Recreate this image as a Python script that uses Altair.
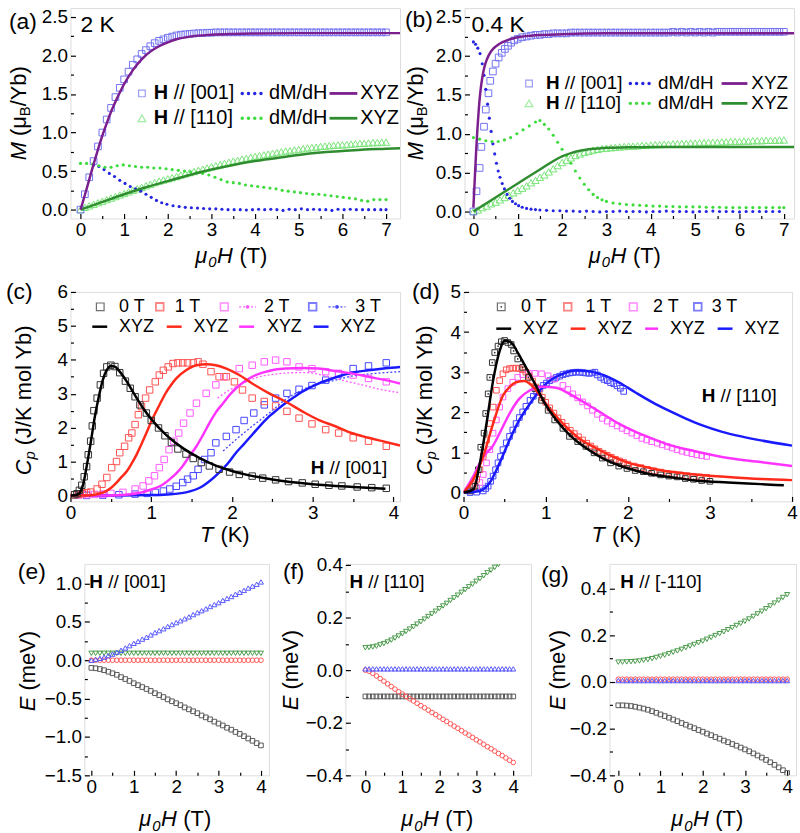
import altair as alt
import pandas as pd

FONT = "Liberation Sans"
TICK = 19
TITLE = 22
LETTER = 23
LEGA = 20
LEGB = 19
LEGCD = 18
ANN = 19

# ======================= DATA =======================
H_GRID = [0.0,0.1,0.2,0.3,0.4,0.5,0.6,0.7,0.8,0.9,1.0,1.1,1.2,1.3,1.4,1.5,1.6,1.7,1.8,1.9,
          2.0,2.1,2.2,2.3,2.4,2.5,2.6,2.7,2.8,2.9,3.0,3.1,3.2,3.3,3.4,3.5,3.6,3.7,3.8,3.9,
          4.0,4.1,4.2,4.3,4.4,4.5,4.6,4.7,4.8,4.9,5.0,5.1,5.2,5.3,5.4,5.5,5.6,5.7,5.8,5.9,
          6.0,6.1,6.2,6.3,6.4,6.5,6.6,6.7,6.8,6.9,7.0]

# (a) 2 K
A_SQ001 = [0.00,0.20,0.42,0.63,0.82,1.00,1.17,1.32,1.46,1.58,1.69,1.79,1.88,1.95,2.02,2.07,2.12,2.16,2.19,2.21,
           2.23,2.245,2.26,2.27,2.275,2.28,2.285,2.29,2.29,2.295,2.295,2.30,2.30,2.30,2.30,2.30,2.30,2.30,2.30,2.30,
           2.30,2.30,2.30,2.30,2.30,2.30,2.30,2.30,2.30,2.30,2.30,2.30,2.30,2.30,2.30,2.30,2.30,2.30,2.30,2.30,
           2.30,2.30,2.30,2.30,2.30,2.30,2.30,2.30,2.30,2.30,2.30]
A_TRI110 = [0.0,0.03,0.05,0.07,0.09,0.11,0.13,0.15,0.17,0.19,0.21,0.23,0.25,0.27,0.29,0.31,0.33,0.35,0.37,0.385,
            0.40,0.415,0.43,0.45,0.465,0.48,0.495,0.51,0.525,0.54,0.555,0.57,0.585,0.60,0.615,0.63,0.64,0.655,0.665,0.68,
            0.69,0.70,0.71,0.72,0.73,0.74,0.75,0.76,0.765,0.775,0.78,0.79,0.80,0.805,0.81,0.82,0.825,0.83,0.835,0.84,
            0.84,0.845,0.85,0.855,0.86,0.86,0.865,0.87,0.87,0.875,0.875]
A_X001_H = [0,0.1,0.2,0.3,0.4,0.5,0.6,0.7,0.8,0.9,1.0,1.2,1.4,1.6,1.8,2.0,2.2,2.5,3.0,3.5,4.0,5.0,6.0,7.0,7.4]
A_X001_M = [0,0.19,0.39,0.59,0.78,0.96,1.12,1.27,1.40,1.52,1.63,1.81,1.95,2.05,2.12,2.17,2.21,2.245,2.27,2.28,2.285,2.29,2.29,2.29,2.29]
A_X110_H = [0,0.5,1,1.5,2,2.5,3,3.5,4,4.5,5,5.5,6,6.5,7,7.4]
A_X110_M = [0,0.10,0.20,0.29,0.37,0.45,0.52,0.58,0.63,0.67,0.71,0.74,0.76,0.78,0.79,0.80]
A_D001_H = [0.3,0.42,0.54,0.66,0.78,0.9,1.02,1.14,1.26,1.38,1.5,1.62,1.74,1.86,1.98,2.12,2.26,2.4,2.54,2.68,
            2.82,2.96,3.1,3.24,3.38,3.52,3.66,3.8,3.94,4.08,4.22,4.36,4.5,4.64,4.78,4.92,5.06,5.2,5.34,5.48,
            5.62,5.76,5.9,6.04,6.18,6.32,6.46,6.6,6.74,6.88,7.0]
A_D001_V = [0.58,0.56,0.52,0.47,0.43,0.38,0.34,0.30,0.27,0.24,0.20,0.16,0.12,0.09,0.07,0.05,0.04,0.03,0.025,0.02,
            0.015,0.01,0.01,0.005,0.0,0.0,0.0,-0.005,0.0,0.005,0.0,0.005,0.0,-0.01,0.005,0.0,0.01,0.0,0.005,0.0,
            0.0,-0.01,0.005,0.0,0.005,0.0,0.0,0.0,0.0,0.0,0.0]
A_D110_H = [0.0,0.14,0.28,0.42,0.56,0.7,0.84,0.98,1.12,1.26,1.4,1.54,1.68,1.82,1.96,2.1,2.24,2.38,2.52,2.66,
            2.8,2.94,3.08,3.22,3.36,3.5,3.64,3.78,3.92,4.06,4.2,4.34,4.48,4.62,4.76,4.9,5.04,5.18,5.32,5.46,
            5.6,5.74,5.88,6.02,6.16,6.3,6.44,6.58,6.72,6.86,7.0]
A_D110_V = [0.60,0.60,0.59,0.57,0.55,0.55,0.57,0.58,0.57,0.56,0.55,0.55,0.54,0.54,0.53,0.52,0.51,0.50,0.49,0.48,
            0.47,0.45,0.42,0.39,0.36,0.35,0.34,0.32,0.31,0.30,0.29,0.28,0.27,0.25,0.24,0.23,0.22,0.21,0.20,0.20,
            0.19,0.18,0.17,0.16,0.15,0.14,0.12,0.11,0.13,0.13,0.13]

# (b) 0.4 K
B_SQ001_H = [0.0,0.07,0.14,0.18,0.24,0.28,0.34,0.38,0.44,0.5,0.57,0.64,0.71,0.78,0.85,0.92,1.0,1.1,1.2,1.3,1.4,1.5,1.6,
             1.7,1.8,1.9,2.0,2.1,2.2,2.3,2.4,2.5,2.6,2.7,2.8,2.9,3.0,3.1,3.2,3.3,3.4,3.5,3.6,3.7,3.8,3.9,
             4.0,4.1,4.2,4.3,4.4,4.5,4.6,4.7,4.8,4.9,5.0,5.1,5.2,5.3,5.4,5.5,5.6,5.7,5.8,5.9,
             6.0,6.1,6.2,6.3,6.4,6.5,6.6,6.7,6.8,6.9,7.0]
B_SQ001_M = [0.0,0.26,0.56,0.83,1.09,1.31,1.52,1.68,1.80,1.90,1.98,2.04,2.09,2.13,2.17,2.20,2.22,2.24,2.25,2.26,2.27,2.27,2.28,
             2.28,2.29,2.29,2.29,2.29,2.30,2.30,2.30,2.30,2.30,2.30,2.30,2.30,2.30,2.30,2.30,2.30,2.30,2.30,2.30,2.30,2.30,2.30,
             2.30,2.30,2.30,2.30,2.30,2.31,2.30,2.31,2.30,2.31,2.30,2.31,2.30,2.31,2.30,2.31,2.31,2.31,2.31,2.31,
             2.31,2.31,2.31,2.31,2.31,2.31,2.31,2.31,2.31,2.31,2.31]
B_TRI110 = [0.0,0.02,0.05,0.07,0.10,0.12,0.15,0.18,0.21,0.24,0.27,0.30,0.33,0.37,0.40,0.44,0.47,0.51,0.55,0.59,
            0.63,0.66,0.69,0.72,0.74,0.76,0.775,0.79,0.80,0.81,0.815,0.82,0.825,0.83,0.835,0.84,0.84,0.845,0.85,0.85,
            0.855,0.86,0.86,0.865,0.865,0.87,0.87,0.875,0.875,0.88,0.88,0.885,0.885,0.89,0.89,0.89,0.895,0.895,0.90,0.90,
            0.90,0.905,0.905,0.91,0.91,0.91,0.915,0.915,0.915,0.92,0.92]
B_X001_H = [0.0,0.03,0.06,0.09,0.12,0.15,0.2,0.25,0.3,0.4,0.5,0.6,0.8,1.0,1.3,1.6,2.0,3.0,4.0,5.0,6.0,7.4]
B_X001_M = [0.05,0.40,0.75,1.05,1.30,1.50,1.72,1.86,1.95,2.06,2.12,2.16,2.21,2.24,2.26,2.27,2.28,2.29,2.29,2.29,2.29,2.29]
B_X110_H = [0,0.5,1,1.5,2.0,2.2,2.4,2.6,2.8,3.0,3.5,4,5,6,7.4]
B_X110_M = [0.0,0.18,0.36,0.54,0.71,0.75,0.78,0.80,0.81,0.82,0.825,0.83,0.83,0.83,0.83]
B_D001_H = [0.0,0.05,0.1,0.15,0.2,0.24,0.28,0.32,0.36,0.4,0.44,0.48,0.52,0.56,0.6,0.65,0.7,0.76,0.82,0.88,
            0.95,1.02,1.1,1.2,1.3,1.4,1.5,1.65,1.8,1.95,2.1,2.25,2.4,2.55,2.7,2.85,3.0,3.15,3.3,3.45,
            3.6,3.75,3.9,4.05,4.2,4.35,4.5,4.65,4.8,4.95,5.1,5.25,5.4,5.55,5.7,5.85,6.0,6.15,6.3,6.45,
            6.6,6.75,6.9]
B_D001_V = [2.18,2.15,2.10,2.03,1.90,1.75,1.57,1.38,1.20,1.03,0.87,0.74,0.62,0.52,0.44,0.36,0.29,0.22,0.17,0.13,
            0.10,0.075,0.055,0.04,0.03,0.025,0.02,0.015,0.01,0.01,0.005,0.005,0.0,0.005,0.0,-0.005,0.0,0.0,0.005,0.0,
            0.0,0.0,-0.005,0.0,0.0,0.005,0.0,0.0,0.0,-0.005,0.0,0.0,0.005,0.0,0.0,0.0,-0.005,0.0,0.0,0.0,
            0.0,0.0,0.0]
B_D110_H = [0.0,0.14,0.28,0.42,0.56,0.7,0.84,0.98,1.12,1.26,1.4,1.5,1.6,1.7,1.8,1.9,2.0,2.1,2.2,2.3,
            2.4,2.5,2.6,2.7,2.8,2.9,3.0,3.15,3.3,3.45,3.6,3.75,3.9,4.05,4.2,4.35,4.5,4.65,4.8,4.95,
            5.1,5.25,5.4,5.55,5.7,5.85,6.0,6.15,6.3,6.45,6.6,6.75,6.9,7.0]
B_D110_V = [0.95,0.93,0.91,0.90,0.90,0.92,0.95,1.00,1.05,1.10,1.15,1.17,1.12,1.06,0.98,0.89,0.80,0.72,0.62,0.52,
            0.43,0.35,0.28,0.22,0.18,0.15,0.13,0.11,0.10,0.09,0.085,0.08,0.075,0.07,0.07,0.065,0.065,0.06,0.06,0.06,
            0.06,0.055,0.055,0.055,0.05,0.05,0.05,0.05,0.05,0.05,0.05,0.05,0.05,0.05]

# (c) Cp, H // [001]
C_S0_T = [0.05,0.08,0.11,0.14,0.17,0.2,0.22,0.25,0.27,0.29,0.33,0.37,0.41,0.45,0.5,0.55,0.61,0.68,0.74,0.8,
          0.86,0.94,1.0,1.09,1.17,1.25,1.33,1.43,1.52,1.62,1.72,1.84,1.97,2.09,2.25,2.38,2.54,2.7,2.87,3.03,
          3.2,3.36,3.55,3.73,3.91]
C_S0_C = [0.02,0.05,0.15,0.3,0.55,0.85,1.2,1.6,2.05,2.5,2.87,3.26,3.6,3.79,3.84,3.8,3.62,3.37,3.16,2.91,
          2.67,2.43,2.21,1.99,1.76,1.56,1.37,1.22,1.09,0.97,0.87,0.77,0.69,0.62,0.57,0.51,0.46,0.41,0.37,0.33,
          0.3,0.28,0.25,0.23,0.21]
C_L0_T = [0.0,0.08,0.12,0.16,0.2,0.25,0.3,0.35,0.4,0.45,0.5,0.55,0.6,0.7,0.8,0.9,1.0,1.2,1.4,1.6,1.8,2.0,2.2,2.5,3.0,3.5,3.9]
C_L0_C = [0.0,0.02,0.1,0.35,0.85,1.55,2.3,2.9,3.4,3.7,3.82,3.8,3.68,3.35,2.95,2.57,2.25,1.75,1.38,1.1,0.88,0.72,0.6,0.47,0.33,0.25,0.2]
C_S1_T = [0.05,0.1,0.15,0.2,0.25,0.33,0.39,0.45,0.51,0.57,0.61,0.67,0.72,0.76,0.8,0.84,0.88,0.93,0.98,1.05,
          1.1,1.15,1.21,1.27,1.33,1.39,1.45,1.52,1.58,1.64,1.74,1.84,1.93,2.03,2.13,2.25,2.4,2.54,2.68,2.83,
          2.99,3.16,3.32,3.5,3.69,3.91]
C_S1_C = [0.02,0.03,0.05,0.08,0.1,0.19,0.33,0.53,0.82,1.0,1.26,1.45,1.7,1.84,2.09,2.38,2.62,2.87,3.11,3.35,
          3.55,3.69,3.79,3.89,3.91,3.91,3.91,3.91,3.94,3.87,3.65,3.5,3.5,3.35,3.11,2.87,2.77,2.64,2.48,2.28,
          2.11,1.94,1.84,1.7,1.6,1.45]
C_L1_T = [0.0,0.2,0.3,0.41,0.5,0.57,0.63,0.7,0.76,0.82,0.88,0.94,1.0,1.07,1.13,1.19,1.25,1.31,1.43,1.56,
          1.68,1.8,1.93,2.09,2.25,2.46,2.66,2.87,3.07,3.28,3.48,3.69,3.9,4.08]
C_L1_C = [0.0,0.0,0.02,0.09,0.22,0.38,0.54,0.72,0.95,1.21,1.52,1.84,2.18,2.52,2.8,3.06,3.27,3.45,3.69,3.84,
          3.87,3.84,3.74,3.55,3.3,3.01,2.77,2.48,2.23,2.04,1.84,1.7,1.58,1.47]
C_S2_T = [0.1,0.2,0.3,0.4,0.5,0.65,0.8,0.9,0.97,1.04,1.1,1.16,1.22,1.28,1.34,1.4,1.48,1.56,1.68,1.8,
          1.9,2.09,2.25,2.4,2.54,2.68,2.83,2.99,3.16,3.32,3.5,3.69,3.91]
C_S2_C = [0.01,0.02,0.03,0.04,0.06,0.09,0.19,0.28,0.43,0.58,0.82,1.06,1.35,1.6,1.84,2.13,2.43,2.72,3.01,3.26,
          3.5,3.74,3.84,3.94,3.99,3.94,3.79,3.74,3.65,3.6,3.55,3.45,3.35]
C_L2_T = [0.0,0.5,0.8,1.02,1.13,1.23,1.31,1.39,1.47,1.56,1.64,1.72,1.8,1.89,1.97,2.05,2.15,2.25,2.35,2.46,
          2.56,2.66,2.87,3.07,3.28,3.48,3.69,3.9,4.08]
C_L2_C = [0.0,0.0,0.05,0.19,0.3,0.48,0.65,0.87,1.15,1.45,1.78,2.13,2.45,2.72,2.96,3.16,3.35,3.5,3.6,3.67,
          3.72,3.74,3.76,3.74,3.67,3.6,3.5,3.4,3.3]
C_D2_T = [1.82,1.97,2.13,2.34,2.54,2.79,2.95,3.11,3.36,3.61,3.85,4.08]
C_D2_C = [2.87,3.11,3.3,3.5,3.58,3.62,3.62,3.55,3.4,3.26,3.12,3.03]
C_S3_T = [0.2,0.4,0.6,0.8,0.95,1.05,1.15,1.23,1.31,1.39,1.45,1.52,1.58,1.66,1.74,1.8,1.93,2.05,2.15,2.27,
          2.4,2.54,2.68,2.83,2.99,3.16,3.32,3.5,3.69,3.91]
C_S3_C = [0.0,0.01,0.02,0.04,0.06,0.09,0.13,0.19,0.27,0.38,0.48,0.58,0.77,1.06,1.26,1.55,1.74,1.94,2.21,2.43,
          2.67,2.87,3.01,3.13,3.24,3.4,3.58,3.74,3.82,3.91]
C_L3_T = [0.0,0.6,1.0,1.2,1.43,1.64,1.84,1.95,2.05,2.15,2.25,2.35,2.46,2.56,2.66,2.77,2.87,3.07,3.28,3.48,3.69,3.9,4.08]
C_L3_C = [0.0,0.0,0.01,0.03,0.09,0.28,0.67,0.95,1.26,1.52,1.79,2.06,2.33,2.53,2.72,2.9,3.06,3.3,3.48,3.62,3.69,3.75,3.79]
C_D3_T = [1.89,2.05,2.25,2.46,2.66,2.87,3.07,3.28,3.48,3.69,4.08]
C_D3_C = [1.31,1.65,2.04,2.43,2.82,3.11,3.3,3.4,3.52,3.58,3.65]

# (d) Cp, H // [110]
D_S0_T = [0.08,0.14,0.18,0.21,0.25,0.27,0.3,0.32,0.35,0.38,0.42,0.46,0.5,0.54,0.58,0.61,0.66,0.72,0.79,0.87,
          0.95,1.03,1.11,1.21,1.29,1.39,1.49,1.59,1.69,1.79,1.89,1.99,2.09,2.19,2.29,2.4,2.5,2.6,2.7,2.8,2.9,3.0]
D_S0_C = [0.04,0.16,0.57,1.13,1.48,1.97,2.46,2.87,3.24,3.49,3.65,3.76,3.79,3.74,3.69,3.53,3.33,3.12,2.87,2.59,
          2.3,2.05,1.81,1.6,1.4,1.27,1.15,0.99,0.86,0.74,0.66,0.6,0.55,0.52,0.48,0.44,0.41,0.39,0.35,0.33,0.3,0.28]
D_L0_T = [0.0,0.12,0.2,0.28,0.36,0.44,0.5,0.58,0.66,0.76,0.87,0.99,1.13,1.29,1.49,1.69,1.89,2.09,2.29,2.5,2.82,3.22,3.62,3.9]
D_L0_C = [0.0,0.08,0.74,1.72,2.79,3.53,3.79,3.74,3.49,3.12,2.71,2.22,1.81,1.44,1.11,0.86,0.68,0.55,0.45,0.39,0.3,0.25,0.21,0.18]
D_S1_T = [0.08,0.12,0.16,0.2,0.24,0.28,0.32,0.36,0.4,0.44,0.48,0.52,0.56,0.6,0.64,0.68,0.72,0.76,0.8,0.84,
          0.88,0.92,0.96,1.0,1.05,1.1,1.15,1.2,1.25,1.3,1.35,1.4,1.45,1.5,1.55,1.6,1.65,1.7,1.75,1.8,
          1.85,1.9,1.95,2.0,2.08,2.16,2.24,2.32,2.4,2.48,2.56,2.64,2.72,2.8,2.88,2.96]
D_S1_C = [0.05,0.15,0.33,0.57,0.9,1.31,1.72,2.13,2.55,2.79,2.96,3.06,3.09,3.1,3.1,3.09,3.06,3.0,2.9,2.78,
          2.63,2.5,2.37,2.25,2.11,1.98,1.86,1.75,1.65,1.55,1.47,1.39,1.31,1.23,1.16,1.09,1.03,0.98,0.93,0.88,
          0.83,0.79,0.75,0.71,0.66,0.62,0.58,0.54,0.51,0.48,0.46,0.44,0.42,0.40,0.39,0.38]
D_L1_T = [0.0,0.12,0.24,0.36,0.48,0.56,0.64,0.74,0.83,0.93,1.05,1.21,1.41,1.61,1.81,2.01,2.21,2.42,2.82,3.22,3.62,4.0]
D_L1_C = [0.0,0.33,0.9,1.72,2.42,2.63,2.75,2.78,2.67,2.42,2.09,1.72,1.35,1.11,0.9,0.74,0.64,0.55,0.45,0.39,0.34,0.31]
D_S2_T = [0.16,0.2,0.24,0.28,0.32,0.36,0.4,0.44,0.48,0.54,0.6,0.66,0.72,0.79,0.87,0.95,1.03,1.11,1.21,1.27,
          1.33,1.39,1.45,1.51,1.57,1.63,1.69,1.75,1.81,1.87,1.93,1.99,2.05,2.11,2.17,2.23,2.29,2.36,2.42,2.48,
          2.54,2.6,2.66,2.72,2.78,2.84,2.9,2.96]
D_S2_C = [0.12,0.25,0.45,0.74,1.07,1.48,1.81,2.13,2.38,2.59,2.75,2.87,2.94,2.97,2.97,2.96,2.91,2.83,2.67,2.57,
          2.46,2.36,2.26,2.16,2.05,1.95,1.85,1.78,1.72,1.66,1.6,1.54,1.48,1.42,1.35,1.31,1.27,1.23,1.19,1.15,
          1.11,1.07,1.03,1.0,0.97,0.94,0.92,0.9]
D_L2_T = [0.0,0.12,0.2,0.28,0.34,0.44,0.56,0.68,0.81,0.97,1.13,1.29,1.49,1.69,1.89,2.09,2.29,2.5,2.82,3.22,3.62,4.0]
D_L2_C = [0.0,0.41,0.74,0.99,1.11,1.48,1.97,2.34,2.55,2.64,2.61,2.46,2.22,1.97,1.72,1.52,1.35,1.19,1.03,0.86,0.76,0.66]
D_S3_T = [0.08,0.16,0.24,0.27,0.3,0.33,0.36,0.39,0.42,0.45,0.48,0.52,0.56,0.6,0.64,0.68,0.72,0.76,0.81,0.85,
          0.89,0.93,0.97,1.01,1.05,1.09,1.13,1.17,1.21,1.25,1.29,1.33,1.37,1.41,1.45,1.49,1.53,1.57,1.6,1.63,
          1.67,1.71,1.75,1.79,1.83,1.87,1.91,1.95]
D_S3_C = [0.0,0.01,0.04,0.1,0.16,0.28,0.41,0.57,0.74,0.9,1.07,1.24,1.4,1.56,1.72,1.87,2.01,2.15,2.3,2.4,
          2.5,2.59,2.67,2.73,2.79,2.83,2.87,2.9,2.94,2.96,2.98,2.99,3.0,3.0,2.99,2.98,2.97,2.98,3.0,2.93,
          2.87,2.82,2.79,2.74,2.71,2.66,2.6,2.52]
D_L3_T = [0.0,0.2,0.32,0.44,0.56,0.68,0.81,0.93,1.05,1.21,1.37,1.53,1.69,1.89,2.09,2.29,2.5,2.7,2.9,3.14,3.38,3.62,4.0]
D_L3_C = [0.0,0.04,0.25,0.74,1.31,1.81,2.22,2.55,2.79,2.96,3.04,3.02,2.94,2.75,2.5,2.26,2.04,1.85,1.68,1.52,1.4,1.3,1.17]

# (e)-(g) energy levels
H_E = [0.0,0.1,0.2,0.3,0.4,0.5,0.6,0.7,0.8,0.9,1.0,1.1,1.2,1.3,1.4,1.5,1.6,1.7,1.8,1.9,
       2.0,2.1,2.2,2.3,2.4,2.5,2.6,2.7,2.8,2.9,3.0,3.1,3.2,3.3,3.4,3.5,3.6,3.7,3.8,3.9,4.0]
E_GRAY = [-0.100,-0.105,-0.115,-0.13,-0.15,-0.17,-0.19,-0.22,-0.245,-0.27,-0.30,-0.325,-0.35,-0.375,-0.40,-0.43,-0.455,-0.48,-0.51,-0.535,
          -0.56,-0.585,-0.615,-0.64,-0.665,-0.69,-0.72,-0.745,-0.77,-0.80,-0.825,-0.85,-0.88,-0.905,-0.935,-0.96,-0.99,-1.02,-1.05,-1.08,-1.11]
E_BLUE = [0.0,0.01,0.025,0.04,0.06,0.08,0.105,0.13,0.16,0.19,0.22,0.245,0.275,0.30,0.33,0.36,0.385,0.41,0.44,0.465,
          0.49,0.515,0.54,0.565,0.595,0.62,0.645,0.67,0.70,0.725,0.75,0.78,0.805,0.83,0.86,0.885,0.91,0.94,0.965,0.99,1.02]
E_GREEN = [0.09,0.09,0.09,0.09,0.09,0.09,0.09,0.09,0.09,0.09,0.09,0.09,0.09,0.09,0.09,0.09,0.09,0.09,0.09,0.09,
           0.09,0.09,0.09,0.09,0.09,0.09,0.09,0.09,0.09,0.09,0.09,0.09,0.09,0.09,0.09,0.09,0.09,0.09,0.09,0.09,0.09]
E_RED = [0.0,0.0,0.0,0.0,0.0,0.0,0.0,0.0,0.0,0.0,0.0,0.0,0.0,0.0,0.0,0.0,0.0,0.0,0.0,0.0,
         0.0,0.0,0.0,0.0,0.0,0.0,0.0,0.0,0.0,0.0,0.0,0.0,0.0,0.0,0.0,0.0,0.0,0.0,0.0,0.0,0.0]
F_GRAY = [-0.10,-0.10,-0.10,-0.10,-0.10,-0.10,-0.10,-0.10,-0.10,-0.10,-0.10,-0.10,-0.10,-0.10,-0.10,-0.10,-0.10,-0.10,-0.10,-0.10,
          -0.10,-0.10,-0.10,-0.10,-0.10,-0.10,-0.10,-0.10,-0.10,-0.10,-0.10,-0.10,-0.10,-0.10,-0.10,-0.10,-0.10,-0.10,-0.10,-0.10,-0.10]
F_BLUE = [0.005,0.005,0.005,0.005,0.005,0.005,0.005,0.005,0.005,0.005,0.005,0.005,0.005,0.005,0.005,0.005,0.005,0.005,0.005,0.005,
          0.005,0.005,0.005,0.005,0.005,0.005,0.005,0.005,0.005,0.005,0.005,0.005,0.005,0.005,0.005,0.005,0.005,0.005,0.005,0.005,0.005]
F_RED = [0.0,-0.004,-0.012,-0.022,-0.032,-0.042,-0.052,-0.062,-0.072,-0.082,-0.091,-0.100,-0.109,-0.117,-0.126,-0.135,-0.143,-0.152,-0.161,-0.169,
         -0.178,-0.187,-0.195,-0.204,-0.213,-0.221,-0.230,-0.239,-0.247,-0.256,-0.265,-0.273,-0.282,-0.291,-0.299,-0.308,-0.317,-0.325,-0.334,-0.343,-0.351]
F_GREEN = [0.085,0.086,0.088,0.091,0.096,0.101,0.107,0.114,0.122,0.130,0.138,0.147,0.156,0.165,0.175,0.184,0.194,0.204,0.214,0.224,
           0.234,0.244,0.254,0.265,0.275,0.285,0.296,0.306,0.317,0.327,0.338,0.348,0.359,0.370,0.380,0.391,0.402,0.412,0.423,0.434,0.444]
G_GRAY = [-0.100,-0.100,-0.101,-0.103,-0.106,-0.110,-0.114,-0.119,-0.125,-0.132,-0.139,-0.146,-0.153,-0.161,-0.168,-0.176,-0.183,-0.191,-0.198,-0.206,
          -0.213,-0.221,-0.228,-0.236,-0.243,-0.251,-0.258,-0.266,-0.273,-0.281,-0.289,-0.297,-0.306,-0.315,-0.324,-0.334,-0.344,-0.355,-0.366,-0.378,-0.390]
G_RED = [0.012,0.012,0.012,0.012,0.012,0.012,0.012,0.012,0.012,0.012,0.012,0.012,0.012,0.012,0.012,0.012,0.012,0.012,0.012,0.012,
         0.012,0.012,0.012,0.012,0.012,0.012,0.012,0.012,0.012,0.012,0.012,0.012,0.012,0.012,0.012,0.012,0.012,0.012,0.012,0.012,0.012]
G_BLUE = [0.006,0.006,0.006,0.006,0.006,0.006,0.006,0.006,0.006,0.006,0.006,0.006,0.006,0.006,0.006,0.006,0.006,0.006,0.006,0.006,
          0.006,0.006,0.006,0.006,0.006,0.006,0.006,0.006,0.006,0.006,0.006,0.006,0.006,0.006,0.006,0.006,0.006,0.006,0.006,0.006,0.006]
G_GREEN = [0.085,0.085,0.086,0.087,0.088,0.090,0.093,0.096,0.100,0.105,0.110,0.115,0.121,0.127,0.133,0.140,0.147,0.154,0.161,0.168,
           0.175,0.183,0.191,0.199,0.207,0.215,0.224,0.233,0.242,0.251,0.260,0.270,0.281,0.292,0.303,0.314,0.326,0.338,0.350,0.362,0.374]

# ======================= STYLE =======================
C_SQ = "#7474f2"; C_TRI = "#78e478"; C_DB = "#2626e2"; C_DG = "#3cdc3c"
C_LP = "#7b1f8e"; C_LG = "#2f8d2f"
C_K = "#333333"; C_R = "#ff5252"; C_M = "#ff5cff"; C_B = "#4646ff"
L_K = "#000000"; L_R = "#ff2a1a"; L_M = "#ff33ff"; L_B = "#1a1aff"
E_K = "#5a5a5a"; E_B = "#5858ff"; E_R = "#ff5858"; E_G = "#4a9a4a"

W = {" ": .278, "(": .333, ")": .333, "/": .278, "[": .278, "]": .278, "-": .333, ".": .278,
     "H": .722, "B": .667, "C": .722, "E": .667, "J": .5, "K": .667, "M": .833, "T": .611, "V": .667,
     "X": .667, "Y": .667, "Z": .611, "a": .556, "b": .556, "d": .556, "e": .556, "l": .222, "m": .833,
     "o": .556, "p": .556, "μ": .576}


def tw(s, fs):
    return sum(W.get(c, 0.556) for c in s) * fs


def xy(xs, ys):
    n = min(len(xs), len(ys))
    return pd.DataFrame({"x": list(xs[:n]), "y": list(ys[:n])})


def scales(xd, yd):
    return (alt.Scale(domain=xd, nice=False, zero=False), alt.Scale(domain=yd, nice=False, zero=False))


def put(ch, sx, sy):
    return ch.encode(x=alt.X("x:Q", scale=sx, axis=None), y=alt.Y("y:Q", scale=sy, axis=None))


def pts(df, sx, sy, shape, color, size, sw=1.0, opacity=1.0):
    return put(alt.Chart(df).mark_point(shape=shape, filled=False, size=size, color=color,
                                        strokeWidth=sw, opacity=opacity, clip=True), sx, sy)


def line(df, sx, sy, color, width=2.5, dash=None):
    kw = dict(color=color, strokeWidth=width, interpolate="monotone", clip=True)
    if dash:
        kw["strokeDash"] = dash
    return put(alt.Chart(df).mark_line(**kw), sx, sy)


def dots(df, sx, sy, color, size=10):
    return put(alt.Chart(df).mark_circle(color=color, size=size, opacity=1, clip=True), sx, sy)


def axis_layers(df, sx, sy, xmaj, xmin, ymaj, ymin, xfmt, yfmt):
    common = dict(grid=False, domain=False, title=None)
    base = alt.Chart(df).mark_point(opacity=0, size=1, clip=True)
    lab_x = alt.Axis(orient="bottom", values=xmaj, format=xfmt, ticks=False, tickSize=0,
                     labelFont=FONT, labelFontSize=TICK, labelColor="black", labelPadding=2,
                     labelFlush=False, labelOverlap=False, **common)
    lab_y = alt.Axis(orient="left", values=ymaj, format=yfmt, ticks=False, tickSize=0,
                     labelFont=FONT, labelFontSize=TICK, labelColor="black", labelPadding=3,
                     labelFlush=False, labelOverlap=False, **common)
    out = [base.encode(x=alt.X("x:Q", scale=sx, axis=lab_x), y=alt.Y("y:Q", scale=sy, axis=lab_y))]
    for vx, vy, size in ((xmaj, ymaj, 5), (xmin, ymin, 3)):
        ax = alt.Axis(orient="bottom", values=vx, labels=False, ticks=True, tickSize=size, tickWidth=1.2,
                      tickColor="black", offset=-size, **common)
        ay = alt.Axis(orient="left", values=vy, labels=False, ticks=True, tickSize=size, tickWidth=1.2,
                      tickColor="black", offset=-size, **common)
        out.append(base.encode(x=alt.X("x:Q", scale=sx, axis=ax), y=alt.Y("y:Q", scale=sy, axis=ay)))
    return out


def txt(t, x, y, fs, style="normal", weight="normal", align="left", baseline="alphabetic", angle=0, color="black"):
    kw = dict(text=t, font=FONT, fontSize=fs, fontStyle=style, fontWeight=weight, align=align,
              baseline=baseline, color=color)
    if angle:
        kw["angle"] = angle
    return alt.Chart().mark_text(**kw).encode(x=alt.value(x), y=alt.value(y))


def rich(pieces, x, y, fs, vertical=False, center=True, baseline="alphabetic", gap=0.0):
    widths = [tw(p[0], fs * p[3]) + gap for p in pieces]
    total = sum(widths) - gap
    pos = -total / 2 if center else 0
    out = []
    for (t, st, wt, sc, sh), w in zip(pieces, widths):
        s = t.lstrip(" ")
        lead = tw(t[: len(t) - len(s)], fs * sc)
        p = pos + lead
        if vertical:
            out.append(txt(s, x + sh * fs, y - p, fs * sc, st, wt, baseline=baseline, angle=270))
        else:
            out.append(txt(s, x + p, y + sh * fs, fs * sc, st, wt, baseline=baseline))
        pos += w
    return out


def hb(rest):
    return [("H", "normal", "bold", 1, 0), (rest, "normal", "normal", 1, 0)]


MU0H = [("μ", "italic", "normal", 1, 0), ("0", "italic", "normal", 0.68, 0.2),
        ("H", "italic", "normal", 1, 0), (" (T)", "normal", "normal", 1, 0)]
TK = [("T", "italic", "normal", 1, 0), (" (K)", "normal", "normal", 1, 0)]
MT = [("M", "italic", "normal", 1, 0), (" (μ", "normal", "normal", 1, 0),
      ("B", "normal", "normal", 0.68, 0.2), ("/Yb)", "normal", "normal", 1, 0)]
CPT = [("C", "italic", "normal", 1, 0), ("p", "italic", "normal", 0.68, 0.2),
       (" (J/K mol Yb)", "normal", "normal", 1, 0)]
ET = [("E", "italic", "normal", 1, 0), (" (meV)", "normal", "normal", 1, 0)]


def sym(x, y, shape, color, size, sw=1.2):
    return alt.Chart().mark_point(shape=shape, filled=False, size=size, color=color, strokeWidth=sw).encode(
        x=alt.value(x), y=alt.value(y))


def seg(x1, x2, y, color, width=2.5, dash=None, cap="butt"):
    kw = dict(color=color, strokeWidth=width, strokeCap=cap)
    if dash:
        kw["strokeDash"] = dash
    return alt.Chart().mark_rule(**kw).encode(x=alt.value(x1), x2=alt.value(x2), y=alt.value(y))


def dot(x, y, color, size=12):
    return alt.Chart().mark_circle(color=color, size=size, opacity=1).encode(x=alt.value(x), y=alt.value(y))


def anchor(x, y):
    return alt.Chart().mark_square(size=1, opacity=0, strokeWidth=0).encode(x=alt.value(x), y=alt.value(y))


def panel(layers, w, h, box):
    x0, y0, x1, y1 = box
    layers = [anchor(x0 + 0.5, y0 + 0.5), anchor(x1 - 0.5, y1 - 0.5)] + layers
    return alt.layer(*layers).resolve_axis(x="independent", y="independent").properties(width=w, height=h)


def lead_spacer():
    return alt.Chart().mark_point(opacity=0, size=0).properties(
        width=1, height=1, view=alt.ViewBackground(stroke="transparent"))


def ab_legend(xs, xh, xd1, xd2, xdm, xl1, xl2, xz, y1, y2, l1, l2, d1, d2, fs):
    out = [sym(xs, y1, "square", C_SQ, 45), sym(xs, y2, "triangle-up", C_TRI, 60)]
    out += rich(hb(" // [001]"), xh, y1, fs, center=False, baseline="middle")
    out += rich(hb(" // [110]"), xh, y2, fs, center=False, baseline="middle")
    out += [seg(xd1, xd2, y1, d1, 3.4, [0.1, 6.2], "round"), seg(xd1, xd2, y2, d2, 3.4, [0.1, 6.2], "round")]
    out += [txt("dM/dH", xdm, y1, fs, baseline="middle"), txt("dM/dH", xdm, y2, fs, baseline="middle")]
    out += [seg(xl1, xl2, y1, l1, 2.8), seg(xl1, xl2, y2, l2, 2.8)]
    out += [txt("XYZ", xz, y1, fs, baseline="middle"), txt("XYZ", xz, y2, fs, baseline="middle")]
    return out


# ======================= PANELS =======================
XT7 = [0, 1, 2, 3, 4, 5, 6, 7]
XT7m = [0.5, 1.5, 2.5, 3.5, 4.5, 5.5, 6.5]
YTM = [0, 0.5, 1.0, 1.5, 2.0, 2.5]
YTMm = [0.25, 0.75, 1.25, 1.75, 2.25]
XT4 = [0, 1, 2, 3, 4]
XT4m = [0.5, 1.5, 2.5, 3.5]

# (a)
sx, sy = scales([-0.23, 7.32], [-0.115, 2.615])
La = axis_layers(xy(H_GRID, A_SQ001), sx, sy, XT7, XT7m, YTM, YTMm, "d", ".1f")
La += [pts(xy(H_GRID, A_TRI110), sx, sy, "triangle-up", C_TRI, 55),
       pts(xy(H_GRID, A_SQ001), sx, sy, "square", C_SQ, 45),
       dots(xy(A_D001_H, A_D001_V), sx, sy, C_DB),
       dots(xy(A_D110_H, A_D110_V), sx, sy, C_DG),
       line(xy(A_X110_H, A_X110_M), sx, sy, C_LG),
       line(xy(A_X001_H, A_X001_M), sx, sy, C_LP)]
La += [txt("(a)", -62, 21, LETTER), txt("2 K", 10, 24, LETTER)]
La += rich(MT, -45, 106, TITLE, vertical=True)
La += rich(MU0H, 162, 256.5, TITLE, gap=0.5)
La += ab_legend(72, 84, 173, 197, 200, 261, 289, 292, 86, 111, C_LP, C_LG, C_DB, C_DG, LEGA)
pa = panel(La, 332, 212, (-67, -4, 334, 268))

# (b)
sx, sy = scales([-0.2, 7.23], [-0.09, 2.615])
Lb = axis_layers(xy(H_GRID, B_TRI110), sx, sy, XT7, XT7m, YTM, YTMm, "d", ".1f")
Lb += [pts(xy(H_GRID, B_TRI110), sx, sy, "triangle-up", C_TRI, 55),
       pts(xy(B_SQ001_H, B_SQ001_M), sx, sy, "square", C_SQ, 45),
       dots(xy(B_D001_H, B_D001_V), sx, sy, C_DB),
       dots(xy(B_D110_H, B_D110_V), sx, sy, C_DG),
       line(xy(B_X110_H, B_X110_M), sx, sy, C_LG),
       line(xy(B_X001_H, B_X001_M), sx, sy, C_LP)]
Lb += [txt("(b)", -60, 19, LETTER), txt("0.4 K", 7, 24, LETTER)]
Lb += rich(MT, -42, 106, TITLE, vertical=True)
Lb += rich(MU0H, 161.5, 256.5, TITLE, gap=0.5)
Lb += ab_legend(65, 82, 167, 190, 195, 259, 285, 289, 76, 96, C_LP, C_LG, C_DB, C_DG, LEGB)
pb = panel(Lb, 332, 212, (-61, -4, 335, 268))

# (c)
sx, sy = scales([0, 4.08], [-0.175, 6.0])
Lc = axis_layers(xy(C_S0_T, C_S0_C), sx, sy, XT4, XT4m, [0, 1, 2, 3, 4, 5, 6],
                 [0.5, 1.5, 2.5, 3.5, 4.5, 5.5], "d", "d")
Lc += [pts(xy(C_S3_T, C_S3_C), sx, sy, "square", C_B, 42),
       pts(xy(C_S2_T, C_S2_C), sx, sy, "square", C_M, 42),
       pts(xy(C_S1_T, C_S1_C), sx, sy, "square", C_R, 42),
       line(xy(C_D3_T, C_D3_C), sx, sy, C_B, 1.3, [2, 2]),
       line(xy(C_D2_T, C_D2_C), sx, sy, C_M, 1.3, [2, 2]),
       line(xy(C_L3_T, C_L3_C), sx, sy, L_B),
       line(xy(C_L2_T, C_L2_C), sx, sy, L_M),
       line(xy(C_L1_T, C_L1_C), sx, sy, L_R),
       pts(xy(C_S0_T, C_S0_C), sx, sy, "square", C_K, 42),
       line(xy(C_L0_T, C_L0_C), sx, sy, L_K)]
Lc += [txt("(c)", -65, 7, LETTER)]
Lc += rich(CPT, -40, 109, TITLE, vertical=True)
Lc += rich(TK, 155.5, 251.5, TITLE, gap=1)
Lc += rich(hb(" // [001]"), 242, 177, ANN, center=False, baseline="middle")
ly1, ly2 = 15, 35
Lc += [sym(30, ly1, "square", C_K, 60), txt("0 T", 49, ly1, LEGCD, baseline="middle"),
       sym(90, ly1, "square", C_R, 60, 1.8), txt("1 T", 105, ly1, LEGCD, baseline="middle"),
       sym(155, ly1, "square", C_M, 60, 1.5), seg(170, 187, ly1, C_M, 1.2, [2, 2]), dot(178.5, ly1, C_M, 14),
       txt("2 T", 195, ly1, LEGCD, baseline="middle"),
       sym(244, ly1, "square", C_B, 60, 1.8), seg(260, 277, ly1, C_B, 1.2, [2, 2]), dot(268.5, ly1, C_B, 14),
       txt("3 T", 287, ly1, LEGCD, baseline="middle"),
       seg(22, 37, ly2, L_K, 2.5), txt("XYZ", 49, ly2, LEGCD, baseline="middle"),
       seg(97, 112, ly2, L_R, 2.5), txt("XYZ", 124, ly2, LEGCD, baseline="middle"),
       seg(170, 185, ly2, L_M, 2.5), txt("XYZ", 198, ly2, LEGCD, baseline="middle"),
       seg(245, 260, ly2, L_B, 2.5), txt("XYZ", 272, ly2, LEGCD, baseline="middle")]
pc = panel(Lc, 332, 211, (-67, -16, 334, 262))

# (d)
sx, sy = scales([0, 4.0], [-0.22, 5.0])
Ld = axis_layers(xy(D_S0_T, D_S0_C), sx, sy, XT4, XT4m, [0, 1, 2, 3, 4, 5],
                 [0.5, 1.5, 2.5, 3.5, 4.5], "d", "d")
Ld += [pts(xy(D_S3_T, D_S3_C), sx, sy, "square", C_B, 32),
       pts(xy(D_S2_T, D_S2_C), sx, sy, "square", C_M, 32),
       pts(xy(D_S1_T, D_S1_C), sx, sy, "square", C_R, 32),
       pts(xy(D_S0_T, D_S0_C), sx, sy, "square", C_K, 32),
       dots(xy(D_S0_T, D_S0_C), sx, sy, C_K, 3),
       line(xy(D_L3_T, D_L3_C), sx, sy, L_B),
       line(xy(D_L2_T, D_L2_C), sx, sy, L_M),
       line(xy(D_L1_T, D_L1_C), sx, sy, L_R),
       line(xy(D_L0_T, D_L0_C), sx, sy, L_K)]
Ld += [txt("(d)", -52, 7, LETTER)]
Ld += rich(CPT, -32, 109, TITLE, vertical=True)
Ld += rich(TK, 154, 251.5, TITLE, gap=1)
Ld += rich(hb(" // [110]"), 240, 105, ANN, center=False, baseline="middle")
ly1, ly2 = 15, 37
Ld += [sym(38, ly1, "square", C_K, 60), dot(38, ly1, C_K, 3), txt("0 T", 58, ly1, LEGCD, baseline="middle"),
       sym(105, ly1, "square", C_R, 60, 1.8), txt("1 T", 123, ly1, LEGCD, baseline="middle"),
       sym(171, ly1, "square", C_M, 60, 1.5), txt("2 T", 191, ly1, LEGCD, baseline="middle"),
       sym(236, ly1, "square", C_B, 60, 1.8), txt("3 T", 250, ly1, LEGCD, baseline="middle"),
       seg(33, 48, ly2, L_K, 2.5), txt("XYZ", 60, ly2, LEGCD, baseline="middle"),
       seg(108, 123, ly2, L_R, 2.5), txt("XYZ", 135, ly2, LEGCD, baseline="middle"),
       seg(183, 196, ly2, L_M, 2.5), txt("XYZ", 208, ly2, LEGCD, baseline="middle"),
       seg(256, 271, ly2, L_B, 2.5), txt("XYZ", 283, ly2, LEGCD, baseline="middle")]
pd_ = panel(Ld, 331, 211, (-60, -16, 336, 262))


def energy(gray, red, blue, green, xd, yd, ymaj, ymin, letter, lx, ly, ann, tx):
    sx, sy = scales(xd, yd)
    L = axis_layers(xy(H_E, gray), sx, sy, XT4, XT4m, ymaj, ymin, "d", ".1f")
    L += [pts(xy(H_E, gray), sx, sy, "square", E_K, 22),
          pts(xy(H_E, green), sx, sy, "triangle-down", E_G, 26),
          pts(xy(H_E, red), sx, sy, "circle", E_R, 22),
          pts(xy(H_E, blue), sx, sy, "triangle-up", E_B, 26)]
    L += [txt(letter, lx, ly, LETTER)]
    L += rich(hb(ann), tx, 18, ANN, center=False, baseline="middle")
    return L


Le = energy(E_GRAY, E_RED, E_BLUE, E_GREEN, [-0.165, 4.19], [-1.5, 1.255],
            [-1.5, -1.0, -0.5, 0.0, 0.5, 1.0], [-1.25, -0.75, -0.25, 0.25, 0.75], "(e)", -67, 15, " // [001]", 5)
Le += rich(ET, -50, 108, TITLE, vertical=True)
Le += rich(MU0H, 91.5, 264.5, TITLE, gap=0.5)
pe = panel(Le, 186, 213, (-81, -10, 191, 272))

Lf = energy(F_GRAY, F_RED, F_BLUE, F_GREEN, [-0.54, 4.48], [-0.4, 0.404],
            [-0.4, -0.2, 0.0, 0.2, 0.4], [-0.3, -0.1, 0.1, 0.3], "(f)", -63, 15, " // [110]", 4)
Lf += rich(ET, -48, 107, TITLE, vertical=True)
Lf += rich(MU0H, 92.5, 264.5, TITLE, gap=0.5)
pf = panel(Lf, 187, 213, (-70, -10, 191, 272))

Lg = energy(G_GRAY, G_RED, G_BLUE, G_GREEN, [-0.21, 4.21], [-0.4, 0.506],
            [-0.4, -0.2, 0.0, 0.2, 0.4], [-0.3, -0.1, 0.1, 0.3], "(g)", -69, 18, " // [-110]", 11)
Lg += rich(ET, -45, 107, TITLE, vertical=True)
Lg += rich(MU0H, 98.5, 264.5, TITLE, gap=0.5)
pg = panel(Lg, 188, 213, (-73, -10, 191, 272))

chart = alt.vconcat(
    alt.hconcat(lead_spacer(), pa, pb, spacing=0),
    alt.hconcat(lead_spacer(), pc, pd_, spacing=0),
    alt.hconcat(lead_spacer(), pe, pf, pg, spacing=0),
    spacing=0,
).properties(padding=0).configure_view(stroke="black", strokeWidth=1.3).configure(background="white")

chart.save("out.html", embed_options={"renderer": "svg", "actions": False})
